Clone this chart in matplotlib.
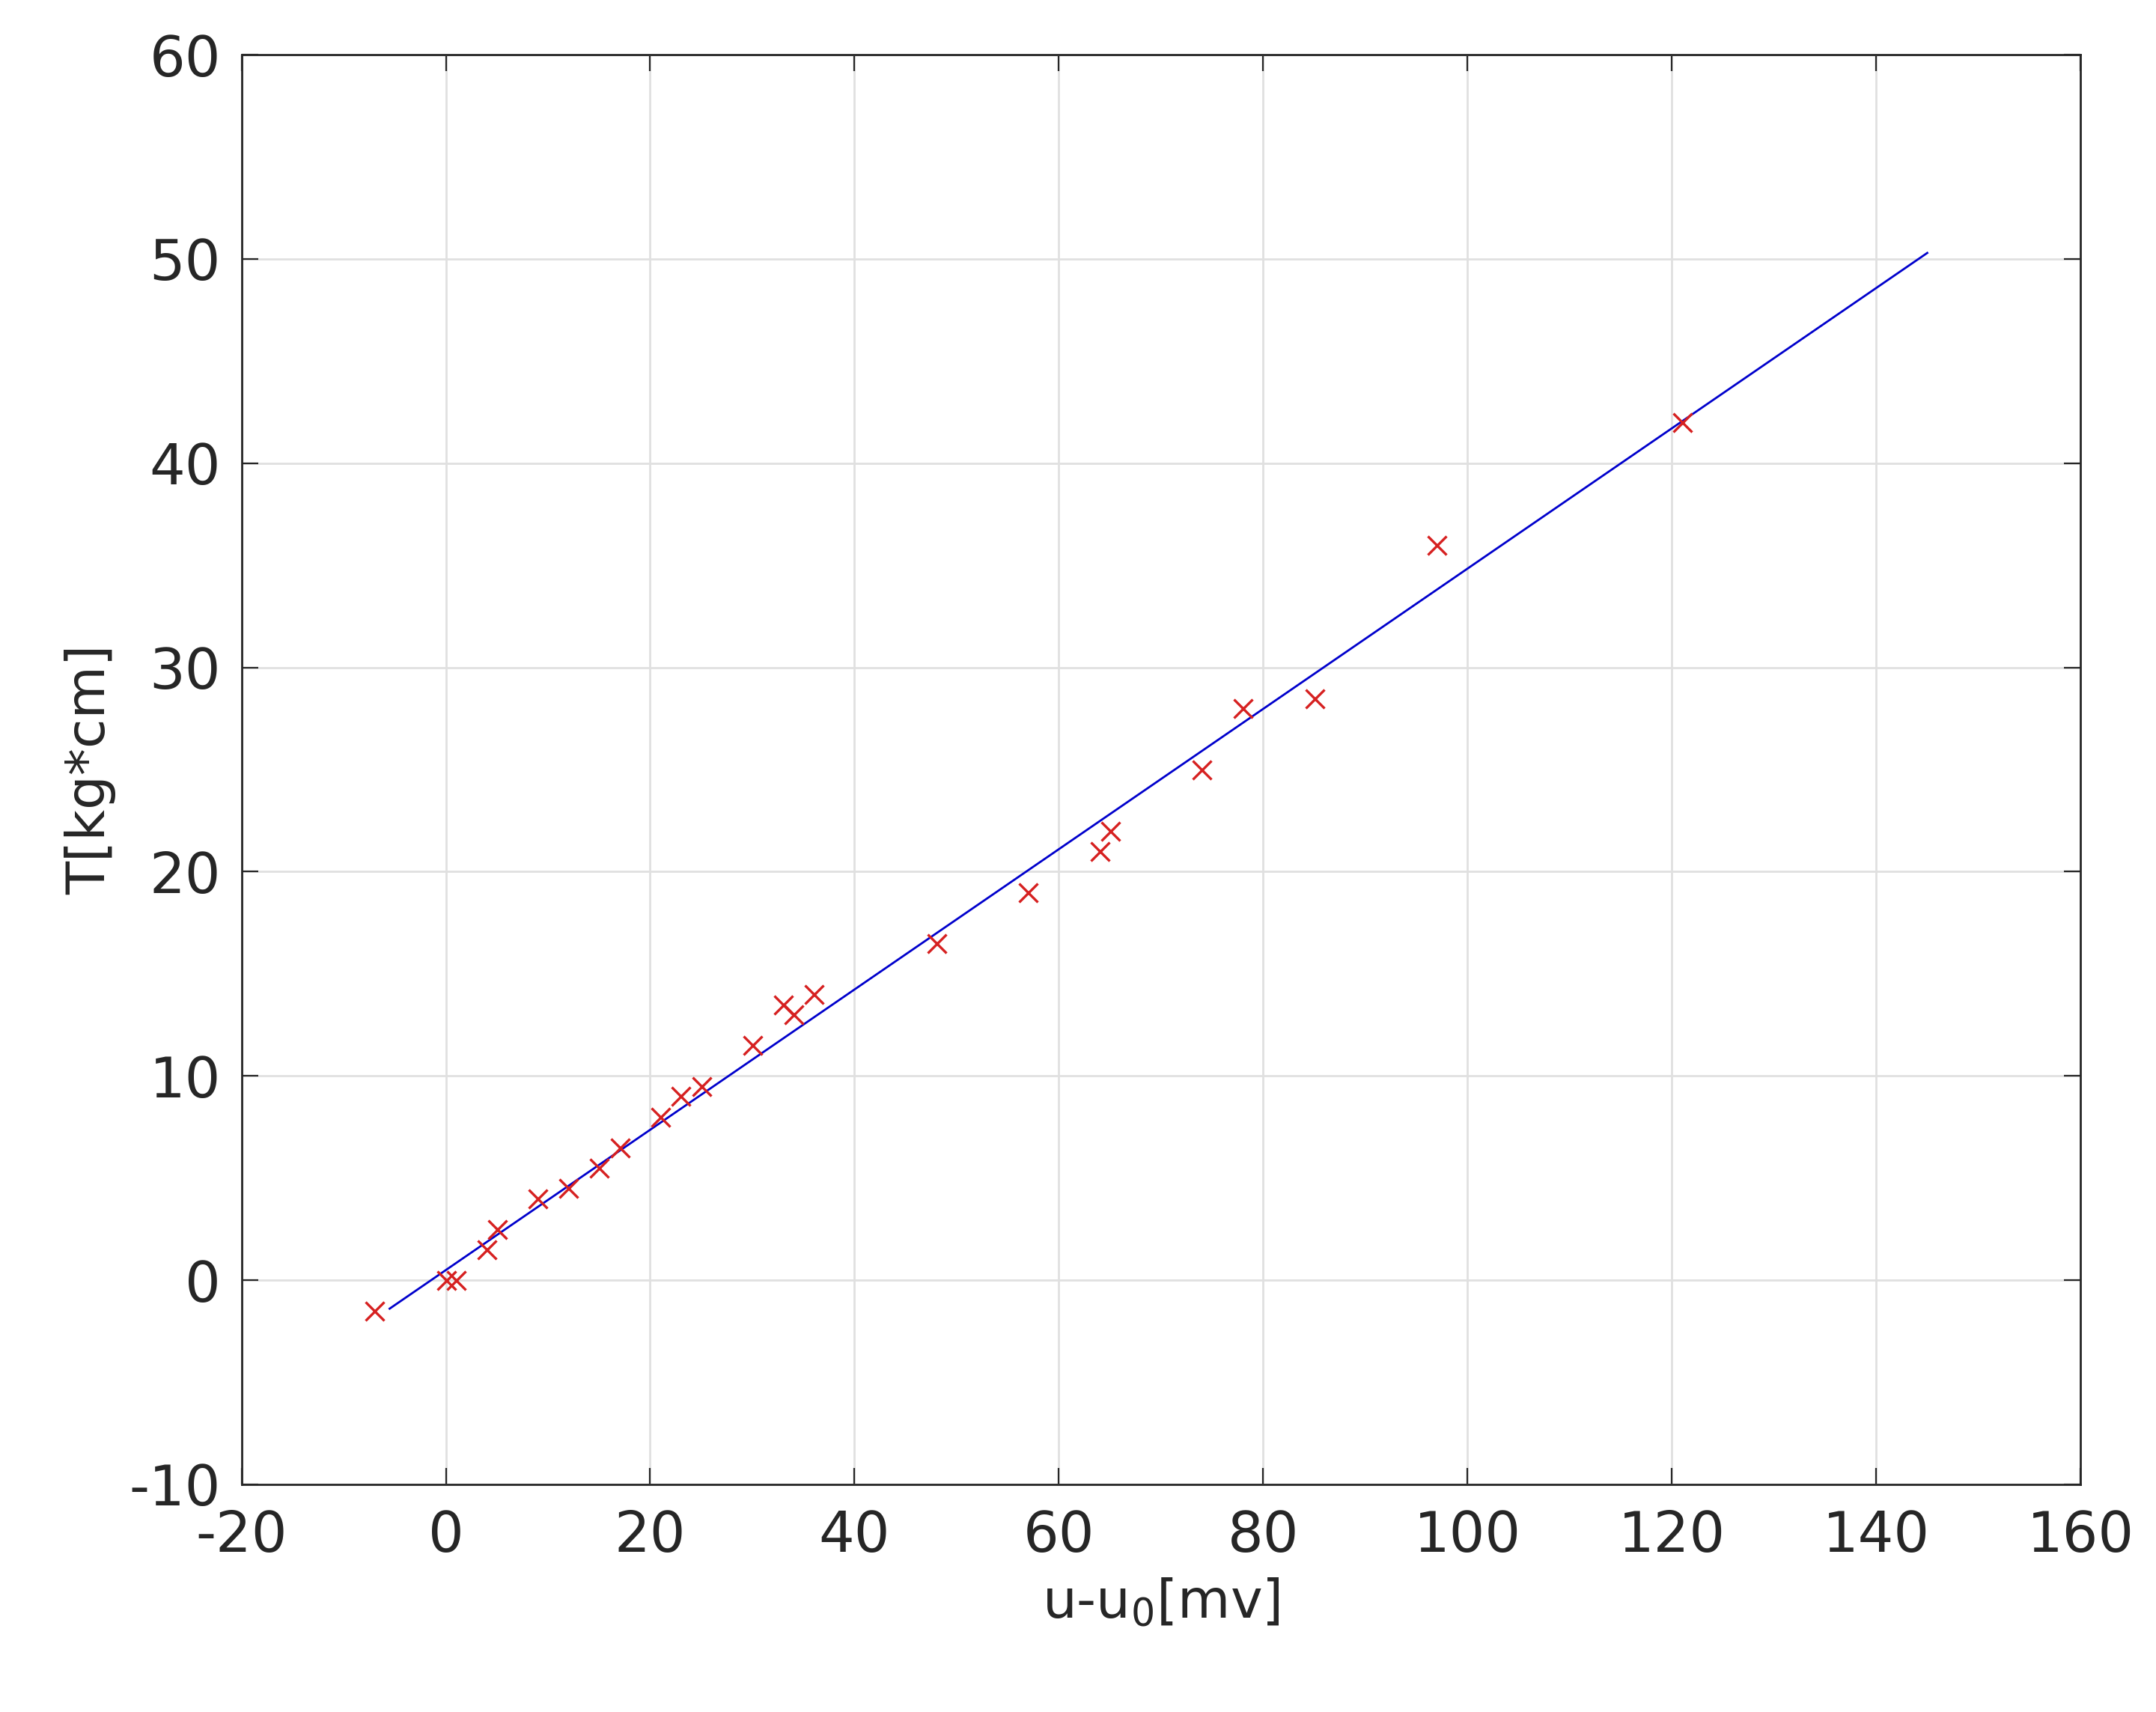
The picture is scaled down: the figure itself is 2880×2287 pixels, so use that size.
import matplotlib.pyplot as plt
import numpy as np

u_diff = [-7, 0, 1, 4, 5, 9, 12, 15, 17, 21, 23, 25, 30, 33, 34, 36,
          48, 57, 64, 65, 74, 78, 85, 97, 121]
torque = [-1.5, 0, 0, 1.5, 2.5, 4, 4.5, 5.5, 6.5, 8, 9, 9.5, 11.5, 13.5, 13, 14,
          16.5, 19, 21, 22, 25, 28, 28.5, 36, 42]

fit_slope = 0.3435
fit_intercept = 0.49
fit_range = [-5.5, 145]

plt.rcParams["font.family"] = ["DejaVu Sans"]
plt.rcParams["axes.unicode_minus"] = False

fig = plt.figure(figsize=(14.4, 11.435), dpi=200)
ax = fig.add_axes([0.112, 0.133, 0.853, 0.835])

xf = np.array(fit_range)
ax.plot(xf, fit_slope * xf + fit_intercept, color="#0000cc", linewidth=1.0)
ax.plot(u_diff, torque, "x", color="#d62020", markersize=9, markeredgewidth=1.2)

ax.set_xlim(-20, 160)
ax.set_ylim(-10, 60)
ax.set_xticks(np.arange(-20, 161, 20))
ax.set_yticks(np.arange(-10, 61, 10))
ax.grid(True, color="#e0e0e0", linewidth=1.0)
ax.set_axisbelow(True)
ax.tick_params(labelsize=27, direction="in", length=8, colors="#262626",
               top=True, right=True)
ax.tick_params(axis="x", pad=12)
ax.tick_params(axis="y", pad=10)
for s in ax.spines.values():
    s.set_color("#262626")
    s.set_linewidth(1.0)

ax.set_xlabel("u-u$_0$[mv]", fontsize=26, color="#262626", labelpad=6)
ax.set_ylabel("T[kg*cm]", fontsize=26, color="#262626", labelpad=6)

fig.savefig("out.png", dpi=200)
